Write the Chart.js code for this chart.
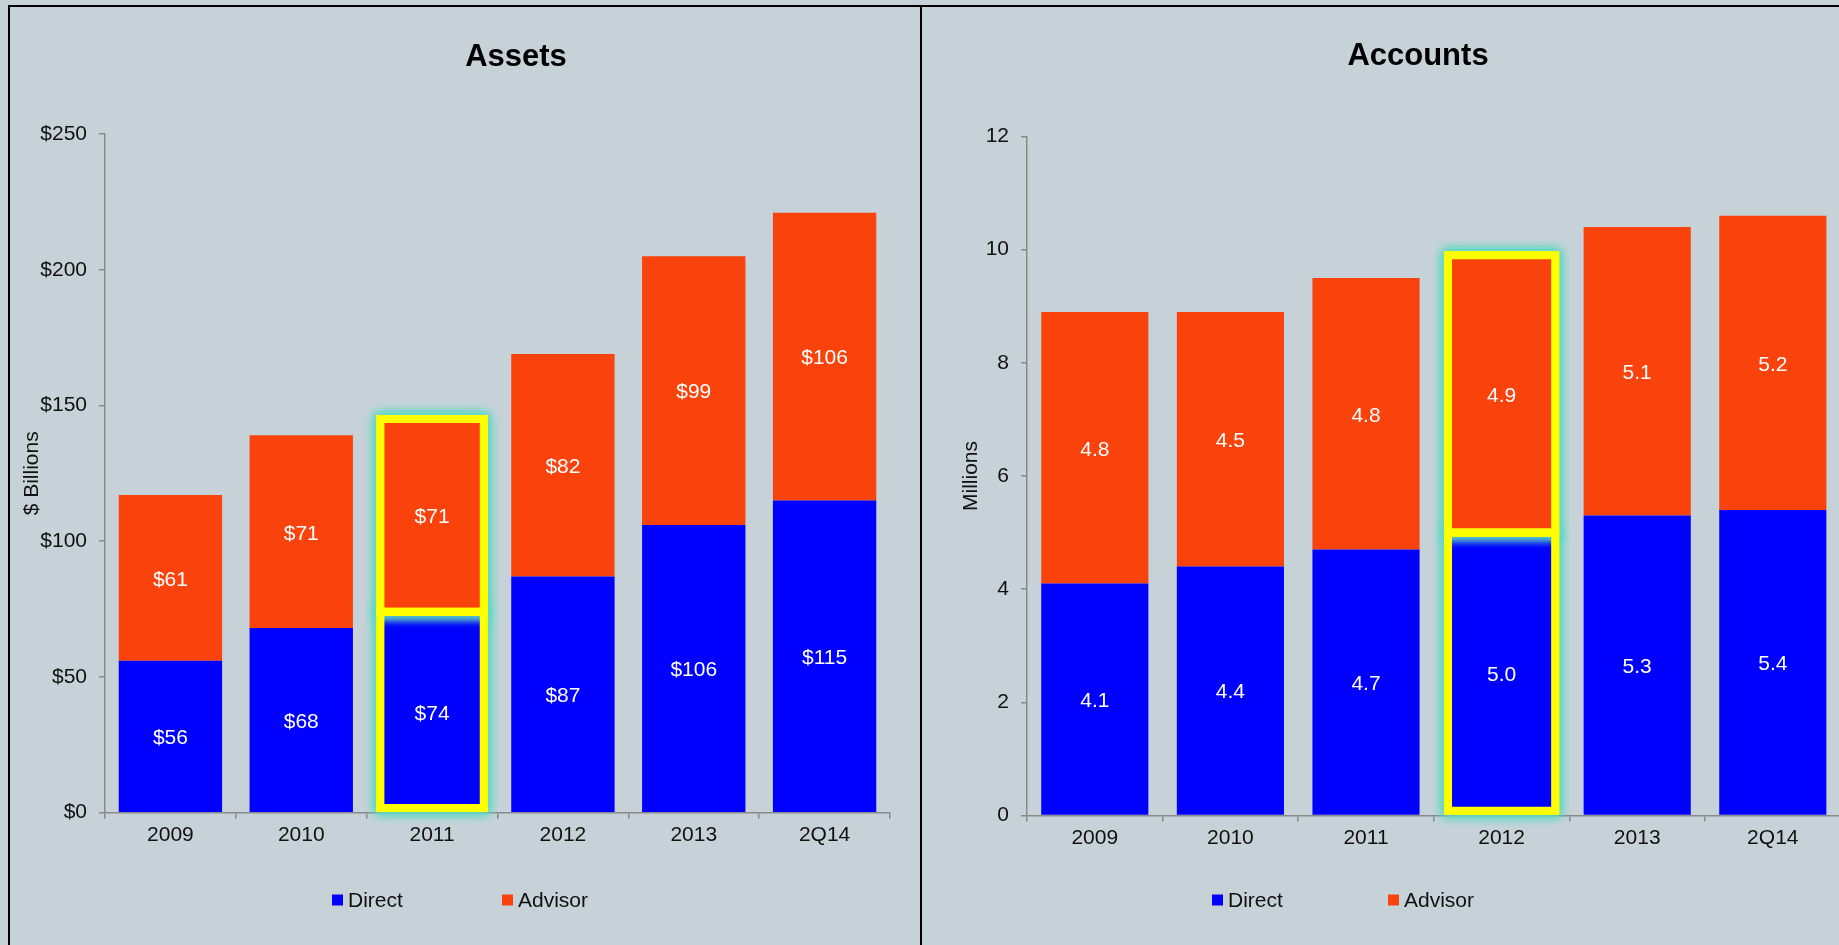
<!DOCTYPE html>
<html>
<head>
<meta charset="utf-8">
<title>Assets and Accounts</title>
<script src="https://cdn.jsdelivr.net/npm/chart.js@4.4.1/dist/chart.umd.min.js"></script>
<style>
html, body { margin: 0; padding: 0; width: 1839px; height: 945px; overflow: hidden; background: #c6d2d8; }
.line { position: absolute; background: #000; }
.panel { position: absolute; top: 7px; height: 938px; overflow: hidden; }
.panel canvas { position: absolute; left: 0; top: 0; }
</style>
</head>
<body>
<div class="line" style="left:8px; top:5px; width:1831px; height:2px"></div>
<div class="line" style="left:8px; top:5px; width:2px; height:940px"></div>
<div class="line" style="left:920px; top:5px; width:2px; height:940px"></div>
<div class="panel" style="left:10px; width:910px"><canvas id="assets" width="1002" height="938"></canvas></div>
<div class="panel" style="left:922px; width:917px"><canvas id="accounts" width="955" height="938"></canvas></div>
<script>
// *** data ***
const YEARS = ['2009', '2010', '2011', '2012', '2013', '2Q14'];
const ASSETS_DIRECT = [56, 68, 74, 87, 106, 115];
const ASSETS_ADVISOR = [61, 71, 71, 82, 99, 106];
const ACCOUNTS_DIRECT = [4.1, 4.4, 4.7, 5.0, 5.3, 5.4];
const ACCOUNTS_ADVISOR = [4.8, 4.5, 4.8, 4.9, 5.1, 5.2];
const ASSETS_TICKS = [0, 50, 100, 150, 200, 250];
const ACCOUNTS_TICKS = [0, 2, 4, 6, 8, 10, 12];

const BLUE = '#0000ff';
const ORANGE = '#f9420c';
const AXIS = '#898989';
const FONT = "'Liberation Sans', Arial, sans-serif";

Chart.defaults.font.family = FONT;
Chart.defaults.color = '#111';

// value text in the middle of every stacked segment
const segmentLabels = {
    id: 'segmentLabels',
    afterDatasetsDraw(chart, args, opts) {
        const ctx = chart.ctx;
        ctx.save();
        ctx.font = '21px ' + FONT;
        ctx.fillStyle = '#fff';
        ctx.textAlign = 'center';
        ctx.textBaseline = 'middle';
        chart.data.datasets.forEach((ds, i) => {
            chart.getDatasetMeta(i).data.forEach((bar, j) => {
                ctx.fillText(opts.format(ds.data[j]), bar.x, (bar.y + bar.base) / 2 + 2);
            });
        });
        ctx.restore();
    }
};

// yellow frame round each segment of one column, glowing on the outside only
const highlightBox = {
    id: 'highlightBox',
    afterDatasetsDraw(chart, args, opts) {
        const ctx = chart.ctx;
        const bars = chart.data.datasets.map((ds, i) => chart.getDatasetMeta(i).data[opts.index]);
        const colTop = Math.min(...bars.map(b => b.y));
        const rects = bars.map((bar, i) => {
            const top = Math.min(bar.y, bar.base);
            const h = Math.abs(bar.base - bar.y);
            return { x: bar.x - bar.width / 2, y: top, w: bar.width, h: i === 0 ? h - 4 : h };
        });
        rects.forEach((r, i) => {
            // bottom segment keeps its glow out of the whole column, the upper one only out of itself
            const exTop = i === 0 ? colTop : r.y;
            const exBottom = r.y + r.h;
            ctx.save();
            ctx.beginPath();
            ctx.rect(0, 0, chart.width, chart.height);
            ctx.rect(r.x, exTop, r.w, exBottom - exTop);
            ctx.clip('evenodd');
            ctx.lineWidth = 8;
            ctx.strokeStyle = '#ffff00';
            ctx.shadowColor = 'rgba(95, 215, 195, 1)';
            ctx.shadowBlur = 11;
            for (let k = 0; k < 4; k++) ctx.strokeRect(r.x, r.y, r.w, r.h);
            ctx.restore();
        });
        ctx.save();
        ctx.lineWidth = 8;
        ctx.lineJoin = 'round';
        ctx.strokeStyle = '#ffff00';
        rects.forEach(r => ctx.strokeRect(r.x, r.y, r.w, r.h));
        ctx.restore();
    }
};

// legend row: square + name, placed at fixed x positions
const legendRow = {
    id: 'legendRow',
    afterDraw(chart, args, opts) {
        const ctx = chart.ctx;
        ctx.save();
        ctx.font = '21px ' + FONT;
        ctx.textBaseline = 'middle';
        ctx.textAlign = 'left';
        chart.data.datasets.forEach((ds, i) => {
            const x = opts.x[i];
            ctx.fillStyle = ds.backgroundColor;
            ctx.fillRect(x, opts.y - 5.5, 11, 11);
            ctx.fillStyle = '#111';
            ctx.fillText(ds.label, x + 16, opts.y + 1);
        });
        ctx.restore();
    }
};

function stackedChart(id, cfg) {
    return new Chart(document.getElementById(id), {
        type: 'bar',
        data: {
            labels: YEARS,
            datasets: [
                { label: 'Direct', data: cfg.direct, backgroundColor: BLUE, borderWidth: 0 },
                { label: 'Advisor', data: cfg.advisor, backgroundColor: ORANGE, borderWidth: 0 }
            ]
        },
        options: {
            responsive: false,
            animation: false,
            devicePixelRatio: 1,
            datasets: { bar: { barPercentage: 0.79, categoryPercentage: 1 } },
            layout: { padding: { left: cfg.padLeft, right: 0, top: 0, bottom: 0 } },
            plugins: {
                legend: { display: false },
                tooltip: { enabled: false },
                title: {
                    display: true,
                    text: cfg.title,
                    color: '#000',
                    font: { size: 31, weight: 'bold' },
                    padding: { top: cfg.titleTop, bottom: cfg.titleBottom }
                },
                segmentLabels: { format: cfg.labelFormat },
                highlightBox: { index: cfg.highlight },
                legendRow: { x: cfg.legendX, y: 893 }
            },
            scales: {
                x: {
                    stacked: true,
                    grid: { drawOnChartArea: false, drawTicks: true, tickLength: 6, color: AXIS, lineWidth: 1.5, offset: true },
                    border: { color: AXIS, width: 1.5 },
                    ticks: { font: { size: 21 }, padding: 4, color: '#111' },
                    afterFit: s => { s.height = cfg.xHeight; }
                },
                y: {
                    stacked: true,
                    min: cfg.ticks[0],
                    max: cfg.ticks[cfg.ticks.length - 1],
                    grid: { drawOnChartArea: false, drawTicks: true, tickLength: 6, color: AXIS, lineWidth: 1.5 },
                    border: { color: AXIS, width: 1.5 },
                    ticks: { font: { size: 21 }, padding: 12, color: '#111', callback: cfg.tickFormat },
                    title: { display: true, text: cfg.yTitle, font: { size: 21 }, color: '#111', padding: 0 },
                    afterBuildTicks: s => { s.ticks = cfg.ticks.map(v => ({ value: v })); },
                    afterFit: s => { s.width = cfg.yWidth; }
                },
                // empty strip on the right, keeps the plot narrower than the title band
                gap: {
                    type: 'linear',
                    position: 'right',
                    grid: { display: false },
                    border: { display: false },
                    ticks: { display: false },
                    afterFit: s => { s.width = cfg.gapRight; }
                }
            }
        },
        plugins: [highlightBox, segmentLabels, legendRow]
    });
}

stackedChart('assets', {
    title: 'Assets',
    yTitle: '$ Billions',
    direct: ASSETS_DIRECT,
    advisor: ASSETS_ADVISOR,
    ticks: ASSETS_TICKS,
    tickFormat: v => '$' + v,
    labelFormat: v => '$' + v,
    highlight: 2,
    padLeft: 10,
    yWidth: 85,
    gapRight: 122,
    xHeight: 132.3,
    titleTop: 31.4,
    titleBottom: 58.4,
    legendX: [322, 492]
});

stackedChart('accounts', {
    title: 'Accounts',
    yTitle: 'Millions',
    direct: ACCOUNTS_DIRECT,
    advisor: ACCOUNTS_ADVISOR,
    ticks: ACCOUNTS_TICKS,
    tickFormat: v => String(v),
    labelFormat: v => v.toFixed(1),
    highlight: 3,
    padLeft: 37,
    yWidth: 68,
    gapRight: 36.4,
    xHeight: 129.5,
    titleTop: 30.6,
    titleBottom: 61.7,
    legendX: [290, 466]
});
</script>
</body>
</html>
